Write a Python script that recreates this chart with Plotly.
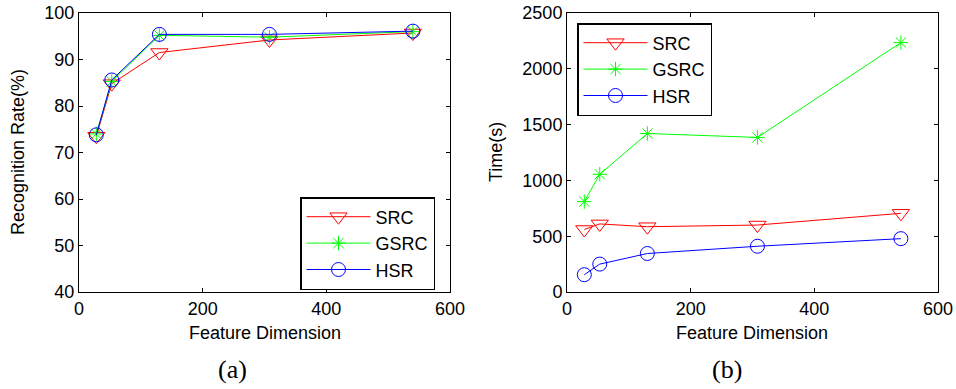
import plotly.graph_objects as go

dims = [28, 53, 130, 308, 540]
rate_src = [73.5, 84.8, 91.5, 94.2, 95.7]
rate_gsrc = [74.0, 85.3, 95.2, 94.8, 96.0]
rate_hsr = [73.8, 85.6, 95.4, 95.4, 96.1]
time_src = [560, 610, 585, 600, 705]
time_gsrc = [810, 1055, 1420, 1385, 2235]
time_hsr = [155, 250, 345, 410, 478]
names = ["SRC", "GSRC", "HSR"]
colors = ["#ff0000", "#00ff00", "#0000ff"]
symbols = ["triangle-down-open", "asterisk-open", "circle-open"]
sizes = [15, 12, 14]

fig = go.Figure()
for i, ys in enumerate([rate_src, rate_gsrc, rate_hsr]):
    fig.add_trace(go.Scatter(x=dims, y=ys, mode="lines+markers", name=names[i],
                             line=dict(color=colors[i], width=1),
                             marker=dict(symbol=symbols[i], size=sizes[i], color=colors[i],
                                         line=dict(width=1, color=colors[i])),
                             xaxis="x", yaxis="y", legend="legend"))
for i, ys in enumerate([time_src, time_gsrc, time_hsr]):
    fig.add_trace(go.Scatter(x=dims, y=ys, mode="lines+markers", name=names[i],
                             line=dict(color=colors[i], width=1),
                             marker=dict(symbol=symbols[i], size=sizes[i], color=colors[i],
                                         line=dict(width=1, color=colors[i])),
                             xaxis="x2", yaxis="y2", legend="legend2"))

W, H = 956, 389
def px(x): return x / W
def py(y): return 1 - y / H

axis_common = dict(showline=True, linecolor="black", linewidth=1, mirror="ticks",
                   ticks="inside", ticklen=4, tickcolor="black", showgrid=False,
                   zeroline=False, automargin=False,
                   tickfont=dict(family="Liberation Sans, Arial", size=18, color="black"))

leg_common = dict(xanchor="left", yanchor="top", bordercolor="black",
                  borderwidth=1.5, bgcolor="white", itemwidth=64,
                  font=dict(family="Liberation Sans, Arial", size=18, color="black"),
                  tracegroupgap=0)

fig.update_layout(
    template="none",
    width=W, height=H, margin=dict(l=0, r=0, t=0, b=0, pad=0, autoexpand=False),
    plot_bgcolor="white", paper_bgcolor="white",
    xaxis=dict(domain=[px(79), px(450)], range=[0, 600], dtick=200, anchor="y", **axis_common),
    yaxis=dict(domain=[py(292), py(13)], range=[40, 100], dtick=10, anchor="x", **axis_common),
    xaxis2=dict(domain=[px(567), px(938)], range=[0, 600], dtick=200, anchor="y2", **axis_common),
    yaxis2=dict(domain=[py(292), py(13)], range=[0, 2500], dtick=500, anchor="x2", **axis_common),
    legend=dict(x=px(300), y=py(197), **leg_common),
    legend2=dict(x=px(577), y=py(23), **leg_common),
    font=dict(family="Liberation Sans, Arial", size=18, color="black"),
)

ann_font = dict(family="Liberation Sans, Arial", size=18, color="black")
def ann(text, x, y, font, angle=0):
    fig.add_annotation(text=text, x=px(x), y=py(y), xref="paper", yref="paper",
                       xanchor="center", yanchor="middle", showarrow=False,
                       textangle=angle, font=font)

serif = dict(family="Liberation Serif, Times New Roman", size=26, color="black")
ann("Feature Dimension", 265, 333, ann_font)
ann("Feature Dimension", 752, 333, ann_font)
ann("Recognition Rate(%)", 18, 152, ann_font, -90)
ann("Time(s)", 496, 152, ann_font, -90)
ann("(a)", 232, 369, serif)
ann("(b)", 727, 369, serif)

fig.write_html("out.html")
